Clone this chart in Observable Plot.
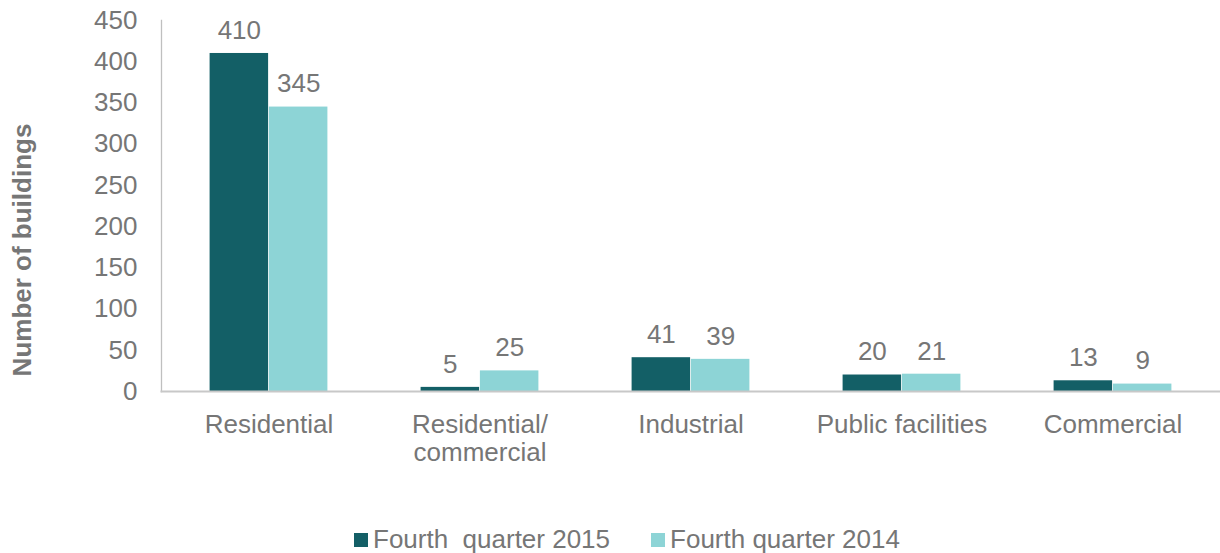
<!DOCTYPE html>
<html><head>
<meta charset="utf-8">
<script src="https://cdn.jsdelivr.net/npm/d3@7"></script>
<script src="https://cdn.jsdelivr.net/npm/@observablehq/plot@0.6"></script>
<style>
body{margin:0;background:#fff;font-family:"Liberation Sans",Arial,sans-serif;width:1220px;height:553px;overflow:hidden;position:relative}
#legend{position:absolute;left:354px;top:525px;height:28px;display:flex;align-items:center;font-size:26px;line-height:28px;color:#767676;white-space:pre}
#legend .item{display:flex;align-items:center;margin-right:41px}
#legend .sw{width:14px;height:14px;margin-right:5px;position:relative;top:1px}
</style>
</head><body>
<div id="chart"></div>
<div id="legend"></div>
<script>
const categories = ["Residential", "Residential/\ncommercial", "Industrial", "Public facilities", "Commercial"];
const series = ["Fourth  quarter 2015", "Fourth quarter 2014"];
const q4_2015 = [410, 5, 41, 20, 13];
const q4_2014 = [345, 25, 39, 21, 9];
const yTicks = [0, 50, 100, 150, 200, 250, 300, 350, 400, 450];
const colors = ["#135f66", "#8dd4d6"];
const textColor = "#767676";

const d2015 = categories.map((c, i) => ({category: c, value: q4_2015[i]}));
const d2014 = categories.map((c, i) => ({category: c, value: q4_2014[i]}));

const W = 1220, mL = 161, mR = 0;
const step = (W - mL - mR) / categories.length;
const barW = step * 0.28;
const outer = step / 2 - barW;
const font = "'Liberation Sans', Arial, sans-serif";

const chart = Plot.plot({
  width: W,
  height: 515,
  marginLeft: mL,
  marginRight: mR,
  marginTop: 20,
  marginBottom: 124,
  style: {fontFamily: font, fontSize: "26px", color: textColor, background: "#fff", overflow: "visible"},
  x: {domain: categories, padding: 0, label: null},
  y: {domain: [0, 450], label: null},
  marks: [
    Plot.barY(d2015, {x: "category", y: "value", fill: colors[0], insetLeft: outer, insetRight: step / 2}),
    Plot.barY(d2014, {x: "category", y: "value", fill: colors[1], insetLeft: step / 2, insetRight: outer}),
    Plot.text(d2015, {x: "category", y: "value", text: d => String(d.value), dx: -barW / 2, dy: -23, fill: textColor, fontSize: 26}),
    Plot.text(d2014, {x: "category", y: "value", text: d => String(d.value), dx: barW / 2, dy: -23, fill: textColor, fontSize: 26}),
    Plot.frame({anchor: "left", stroke: "#bfbfbf", strokeWidth: 1.3}),
    Plot.frame({anchor: "bottom", stroke: "#c8c8c8", strokeWidth: 2}),
    Plot.axisY({ticks: yTicks, tickSize: 0, tickPadding: 24, fontSize: 26, label: null, fill: textColor}),
    Plot.axisX({tickSize: 0, tickPadding: 21, fontSize: 26, lineHeight: 1.1, label: null, fill: textColor}),
    Plot.text(["Number of buildings"], {frameAnchor: "left", text: d => d, rotate: -90, textAnchor: "middle", dx: -139, dy: 44, fontSize: 26, fontWeight: "bold", fill: textColor})
  ]
});
document.getElementById("chart").append(chart);

const legend = document.getElementById("legend");
series.forEach((s, i) => {
  const item = document.createElement("div");
  item.className = "item";
  const sw = document.createElement("span");
  sw.className = "sw";
  sw.style.background = colors[i];
  const t = document.createElement("span");
  t.textContent = s;
  item.append(sw, t);
  legend.append(item);
});
</script>
</body></html>
